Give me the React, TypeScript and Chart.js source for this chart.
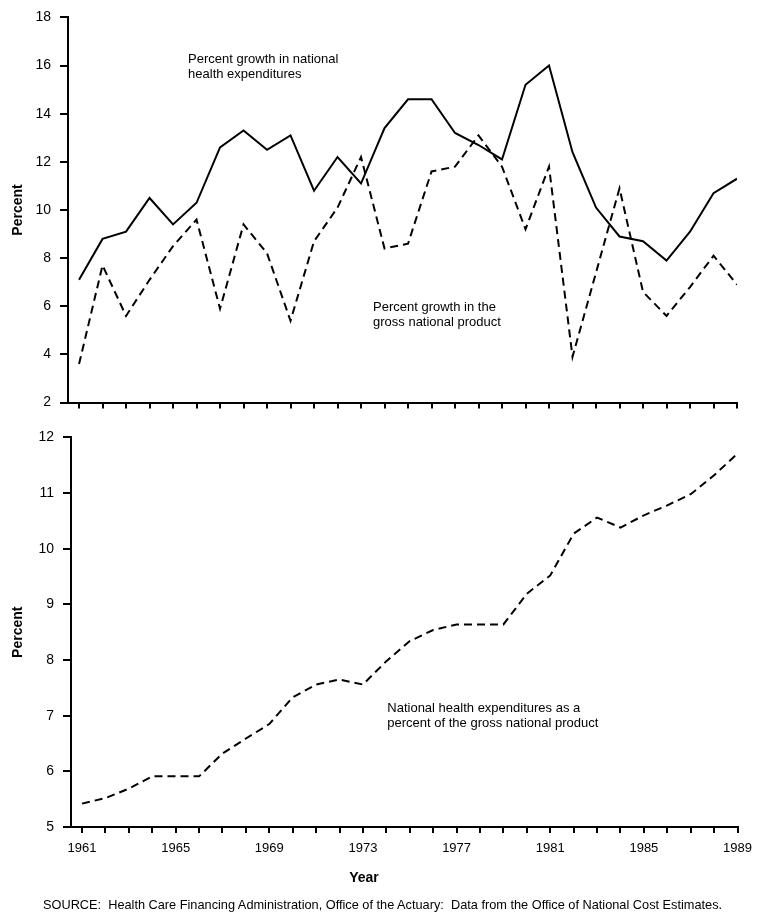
import React, { useEffect, useRef } from "react";
import { Chart, registerables } from "chart.js";

Chart.register(...registerables);

const FONT = "'Liberation Sans', Arial, Helvetica, sans-serif";
Chart.defaults.font.family = FONT;
Chart.defaults.color = "#000";

// ---- data ----
const years = [
  1961, 1962, 1963, 1964, 1965, 1966, 1967, 1968, 1969, 1970,
  1971, 1972, 1973, 1974, 1975, 1976, 1977, 1978, 1979, 1980,
  1981, 1982, 1983, 1984, 1985, 1986, 1987, 1988, 1989,
];
const nheGrowth = [
  7.1, 8.8, 9.1, 10.5, 9.4, 10.3, 12.6, 13.3, 12.5, 13.1,
  10.8, 12.2, 11.1, 13.4, 14.6, 14.6, 13.2, 12.7, 12.1, 15.2,
  16.0, 12.4, 10.1, 8.9, 8.7, 7.9, 9.1, 10.7, 11.3,
];
const gnpGrowth = [
  3.6, 7.7, 5.6, 7.1, 8.5, 9.6, 5.9, 9.4, 8.2, 5.4,
  8.7, 10.1, 12.2, 8.4, 8.6, 11.6, 11.8, 13.1, 11.8, 9.2,
  11.8, 3.9, 7.4, 10.9, 6.6, 5.6, 6.8, 8.1, 6.9,
];
const nheShareOfGnp = [
  5.42, 5.52, 5.69, 5.91, 5.91, 5.91, 6.32, 6.59, 6.85, 7.33,
  7.56, 7.65, 7.56, 7.98, 8.34, 8.54, 8.64, 8.64, 8.64, 9.19,
  9.52, 10.27, 10.56, 10.38, 10.6, 10.78, 10.98, 11.32, 11.71,
];
const topYTicks = [2, 4, 6, 8, 10, 12, 14, 16, 18];
const bottomYTicks = [5, 6, 7, 8, 9, 10, 11, 12];
const xLabelYears = [1961, 1965, 1969, 1973, 1977, 1981, 1985, 1989];
const X_MIN = 1960.53;
const X_MAX = 1989;

const topNotes = [
  { x: 1965.64, y: 16.24, lines: ["Percent growth in national", "health expenditures"] },
  { x: 1973.51, y: 5.94, lines: ["Percent growth in the", "gross national product"] },
];
const bottomNotes = [
  { x: 1974.04, y: 7.13, lines: ["National health expenditures as a", "percent of the gross national product"] },
];

function notesPlugin(items: { x: number; y: number; lines: string[] }[]) {
  return {
    id: "notes",
    afterDatasetsDraw(chart: any) {
      const { ctx, scales } = chart;
      ctx.save();
      ctx.fillStyle = "#000";
      ctx.font = `13px ${FONT}`;
      ctx.textAlign = "left";
      ctx.textBaseline = "middle";
      for (const n of items) {
        const px = scales.x.getPixelForValue(n.x);
        const py = scales.y.getPixelForValue(n.y);
        n.lines.forEach((t, i) => ctx.fillText(t, px, py + i * 15));
      }
      ctx.restore();
    },
  };
}

function toPoints(vals: number[]) {
  return years.map((yr, i) => ({ x: yr, y: vals[i] }));
}

function makeConfig(p: any) {
  return {
    type: "line",
    data: { datasets: p.datasets },
    options: {
      responsive: false,
      animation: false,
      events: [],
      layout: { padding: p.padding },
      plugins: { legend: { display: false }, tooltip: { enabled: false } },
      elements: { point: { radius: 0 }, line: { tension: 0 } },
      scales: {
        x: {
          type: "linear",
          min: X_MIN,
          max: X_MAX,
          afterBuildTicks: (s: any) => {
            s.ticks = years.map((v) => ({ value: v }));
          },
          afterFit: (s: any) => {
            s.height = p.xHeight;
          },
          ticks: {
            display: p.showXLabels,
            autoSkip: false,
            maxRotation: 0,
            minRotation: 0,
            padding: 8,
            color: "#000",
            font: { size: 13 },
            callback: (v: any) => (xLabelYears.includes(Number(v)) ? String(v) : ""),
          },
          grid: { drawOnChartArea: false, drawTicks: true, tickLength: 6, color: "#000", lineWidth: 2 },
          border: { display: true, color: "#000", width: 2 },
        },
        y: {
          type: "linear",
          min: p.yMin,
          max: p.yMax,
          afterBuildTicks: (s: any) => {
            s.ticks = p.yTicks.map((v: number) => ({ value: v }));
          },
          afterFit: (s: any) => {
            s.width = p.yWidth;
          },
          ticks: { padding: 9, color: "#000", font: { size: 14 } },
          grid: { drawOnChartArea: false, drawTicks: true, tickLength: 8, color: "#000", lineWidth: 2 },
          border: { display: true, color: "#000", width: 2 },
          title: {
            display: true,
            text: "Percent",
            color: "#000",
            font: { size: 14, weight: "bold" },
            padding: { top: 10, bottom: 0 },
          },
        },
      },
    },
    plugins: [notesPlugin(p.notes)],
  };
}

export default function App() {
  const topRef = useRef<HTMLCanvasElement | null>(null);
  const bottomRef = useRef<HTMLCanvasElement | null>(null);

  useEffect(() => {
    const top = new Chart(
      topRef.current as HTMLCanvasElement,
      makeConfig({
        datasets: [
          { data: toPoints(nheGrowth), borderColor: "#000", borderWidth: 2, fill: false },
          { data: toPoints(gnpGrowth), borderColor: "#000", borderWidth: 2, borderDash: [8, 5], fill: false },
        ],
        yMin: 2,
        yMax: 18,
        yTicks: topYTicks,
        yWidth: 68,
        xHeight: 15,
        showXLabels: false,
        padding: { top: 15, right: 23, left: 0, bottom: 0 },
        notes: topNotes,
      }) as any
    );
    const bottom = new Chart(
      bottomRef.current as HTMLCanvasElement,
      makeConfig({
        datasets: [
          { data: toPoints(nheShareOfGnp), borderColor: "#000", borderWidth: 2, borderDash: [8, 5], fill: false },
        ],
        yMin: 5,
        yMax: 12,
        yTicks: bottomYTicks,
        yWidth: 71,
        xHeight: 43,
        showXLabels: true,
        padding: { top: 17, right: 21, left: 0, bottom: 0 },
        notes: bottomNotes,
      }) as any
    );
    return () => {
      top.destroy();
      bottom.destroy();
    };
  }, []);

  return (
    <div
      style={{
        position: "absolute",
        left: 0,
        top: 0,
        width: 760,
        height: 923,
        background: "#fff",
        fontFamily: FONT,
        color: "#000",
      }}
    >
      <canvas ref={topRef} width={760} height={420} style={{ position: "absolute", left: 0, top: 0 }} />
      <canvas ref={bottomRef} width={760} height={450} style={{ position: "absolute", left: 0, top: 420 }} />
      <div
        style={{
          position: "absolute",
          left: 0,
          top: 869,
          width: 728,
          textAlign: "center",
          fontSize: 14,
          fontWeight: "bold",
          lineHeight: "16px",
        }}
      >
        Year
      </div>
      <div
        style={{
          position: "absolute",
          left: 43,
          top: 897,
          whiteSpace: "nowrap",
          fontSize: 12.75,
          lineHeight: "16px",
        }}
      >
        SOURCE:&nbsp; Health Care Financing Administration, Office of the Actuary:&nbsp; Data from the Office of National Cost Estimates.
      </div>
    </div>
  );
}
